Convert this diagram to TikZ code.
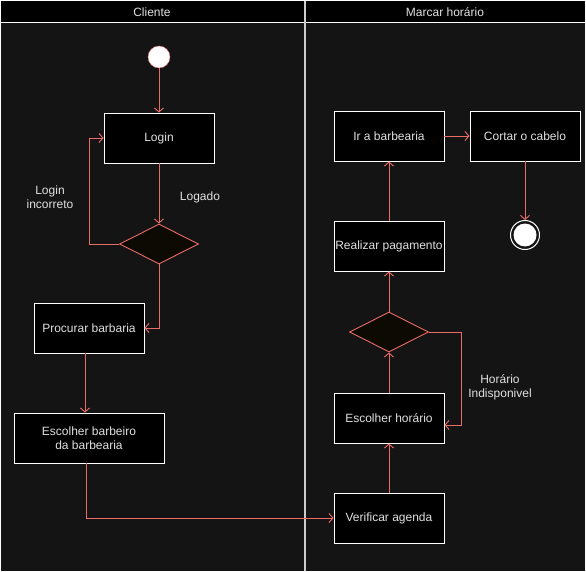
\documentclass[tikz,border=0pt]{standalone}
\usepackage{fontspec}
\setmainfont{Liberation Sans}
\usepackage{xcolor}
\definecolor{lane}{rgb}{0.08,0.08,0.08}
\definecolor{flow}{rgb}{0.92,0.42,0.40}
\definecolor{label}{rgb}{0.88,0.88,0.88}
\definecolor{rim}{rgb}{0.80,0.80,0.80}
\definecolor{choice}{rgb}{0.05,0.04,0.01}
\usetikzlibrary{arrows.meta}
\usetikzlibrary{shapes.geometric}
\usetikzlibrary{positioning}

\begin{document}
\begin{tikzpicture}[x=1pt, y=-1pt,
    every node/.style={font=\fontsize{12}{14}\selectfont, text=label},
    action/.style={draw=white, fill=black, line width=0.9pt, minimum width=110pt, minimum height=50pt, inner sep=1pt, align=center},
    choice/.style={diamond, draw=flow, fill=choice, line width=0.9pt, minimum width=79pt, minimum height=40pt, inner sep=0pt, aspect=2},
    flow/.style={draw=flow, line width=0.9pt, -{Straight Barb[length=4pt, width=9pt]}}]

  \useasboundingbox (0,0) rectangle (586,572);

  % Lanes
  \fill[lane] (0,0) rectangle (586,572);
  \fill[black] (0,0) rectangle (586,23);
  \draw[white, line width=1pt] (0,23) -- (586,23);
  \draw[rim, line width=1.2pt] (305,0) -- (305,572);
  \draw[white, line width=1pt] (0.5,0.5) rectangle (585,571.5);
  \node (cliente) at (152,12) {Cliente};
  \node (marcar) at (445,12) {Marcar horário};

  % Cliente
  \node[circle, draw=flow, fill=white, minimum size=22pt, inner sep=0pt] (inicio) at (159,57) {};
  \node[action] (login) at (159,138) {Login};
  \node[choice] (logado) at (159,244) {};
  \node[action] (procurar) at (89,328) {Procurar barbaria};
  \node[action, minimum width=150pt] (barbeiro) at (89,438) {Escolher barbeiro\\da barbearia};
  \node[align=center] (incorreto) at (50,197) {Login\\incorreto};
  \node (oklogin) at (200,197) {Logado};

  % Marcar horario
  \node[action] (ir) at (389,136) {Ir a barbearia};
  \node[action] (cortar) at (525,136) {Cortar o cabelo};
  \node[circle, draw=white, fill=lane, line width=1pt, minimum size=29pt, inner sep=0pt] (fim) at (525,235) {};
  \fill[white] (fim.center) circle (11.5pt);
  \node[action] (pagamento) at (389,246) {Realizar pagamento};
  \node[choice] (livre) at (389,332) {};
  \node[action] (horario) at (389,418) {Escolher horário};
  \node[action] (agenda) at (389,518) {Verificar agenda};
  \node[align=center] (indisponivel) at (500,387) {Horário\\Indisponivel};

  % Connectors
  \draw[flow] (inicio) -- (login);
  \draw[flow] (login) -- (logado);
  \draw[flow] (logado.west) -- ++(-30,0) |- (login.west);
  \draw[flow] (logado.south) |- (procurar.east);
  \draw[flow] ([xshift=-4pt]procurar.south) -- ([xshift=-4pt]barbeiro.north);
  \draw[flow] ([xshift=-3pt]barbeiro.south) |- (agenda.west);
  \draw[flow] (agenda) -- (horario);
  \draw[flow] (horario) -- (livre);
  \draw[flow] (livre) -- (pagamento);
  \draw[flow] (livre.east) -- ++(32,0) |- ([yshift=-7pt]horario.east);
  \draw[flow] (pagamento) -- (ir);
  \draw[flow] (ir) -- (cortar);
  \draw[flow] (cortar) -- (fim);

\end{tikzpicture}
\end{document}
